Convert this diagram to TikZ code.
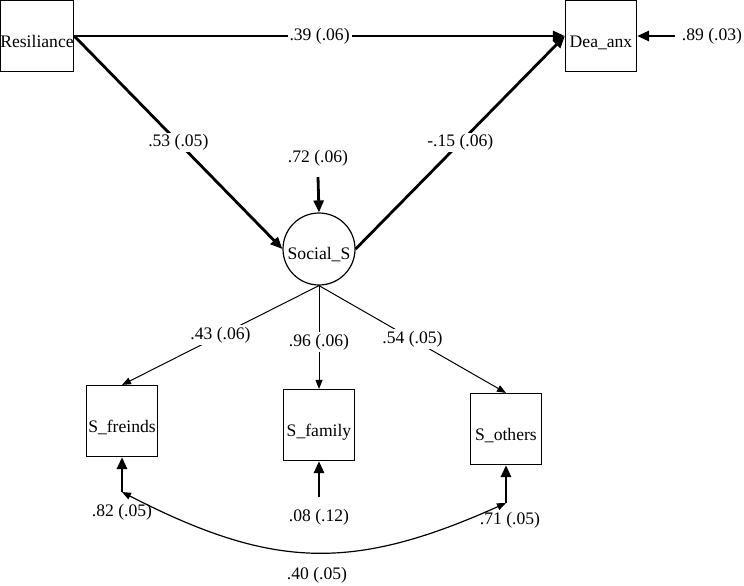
\documentclass[tikz,border=0pt]{standalone}
\usepackage{fontspec}
\setmainfont{Liberation Serif}
\usetikzlibrary{arrows.meta,positioning}

\begin{document}
\begin{tikzpicture}[
  x=0.5pt, y=-0.5pt,
  font=\fontsize{8.8}{10}\selectfont,
  obsbox/.style={
    draw, line width=0.6pt, minimum width=35.5pt,
    minimum height=35.5pt, inner sep=0pt,
    text height=11pt, text depth=0pt,
  },
  latent/.style={
    draw, circle, line width=0.6pt, minimum size=36pt, inner sep=0pt,
    text height=10.5pt, text depth=0pt,
  },
  thickarr/.style={-{Triangle[length=6pt,width=5pt]}, line width=1.4pt},
  thinarr/.style={-{Triangle[length=4.5pt,width=3.5pt]}, line width=0.5pt},
  covarr/.style={{Triangle[length=4.5pt,width=3.5pt]}-{Triangle[length=4.5pt,width=3.5pt]}, line width=0.6pt},
  coef/.style={fill=white, inner sep=1pt},
]
\useasboundingbox (0,0) rectangle (744,585);
% variables
\node[obsbox] (res) at (37,36) {Resiliance};
\node[obsbox] (dea) at (601,36) {Dea\_anx};
\node[latent] (soc) at (319,249) {Social\_S};
\node[obsbox] (sfr) at (122,421) {S\_freinds};
\node[obsbox] (sfa) at (319,425) {S\_family};
\node[obsbox] (sot) at (506,429) {S\_others};
% structural paths
\draw[thickarr] (res.east) -- (dea.west) node[coef, midway] (c39) {.39 (.06)};
\draw[thickarr] (res.east) -- (soc.west) node[coef, midway] (c53) {.53 (.05)};
\draw[thickarr] (soc.east) -- (dea.west) node[coef, midway] (c15) {-.15 (.06)};
% loadings
\draw[thinarr] (soc.south) -- (sfr.north) node[coef, pos=0.5] (c43) {.43 (.06)};
\draw[thinarr] (soc.south) -- (sfa.north) node[coef, pos=0.55] (c96) {.96 (.06)};
\draw[thinarr] (soc.south) -- (sot.north) node[coef, pos=0.5] (c54) {.54 (.05)};
% error terms
\node (e89) at (712,36) {.89 (.03)};
\draw[thickarr] (e89.west) -- (dea.east);
\node (e72) at (318,158) {.72 (.06)};
\coordinate (e72s) at (318,177);
\draw[thickarr] (e72s) -- (soc.north);
\coordinate (efr) at (122,492);
\node (lfr) at (122,512) {.82 (.05)};
\draw[thickarr] (efr) -- (sfr.south);
\coordinate (efa) at (319,497);
\node (lfa) at (319,517) {.08 (.12)};
\draw[thickarr] (efa) -- (sfa.south);
\coordinate (eot) at (506,503);
\node (lot) at (510,520) {.71 (.05)};
\draw[thickarr] (eot) -- (sot.south);
% error covariance
\draw[covarr] (efr) .. controls (272,569) and (352,572) .. (eot);
\node (l40) at (317,575) {.40 (.05)};
\end{tikzpicture}
\end{document}
